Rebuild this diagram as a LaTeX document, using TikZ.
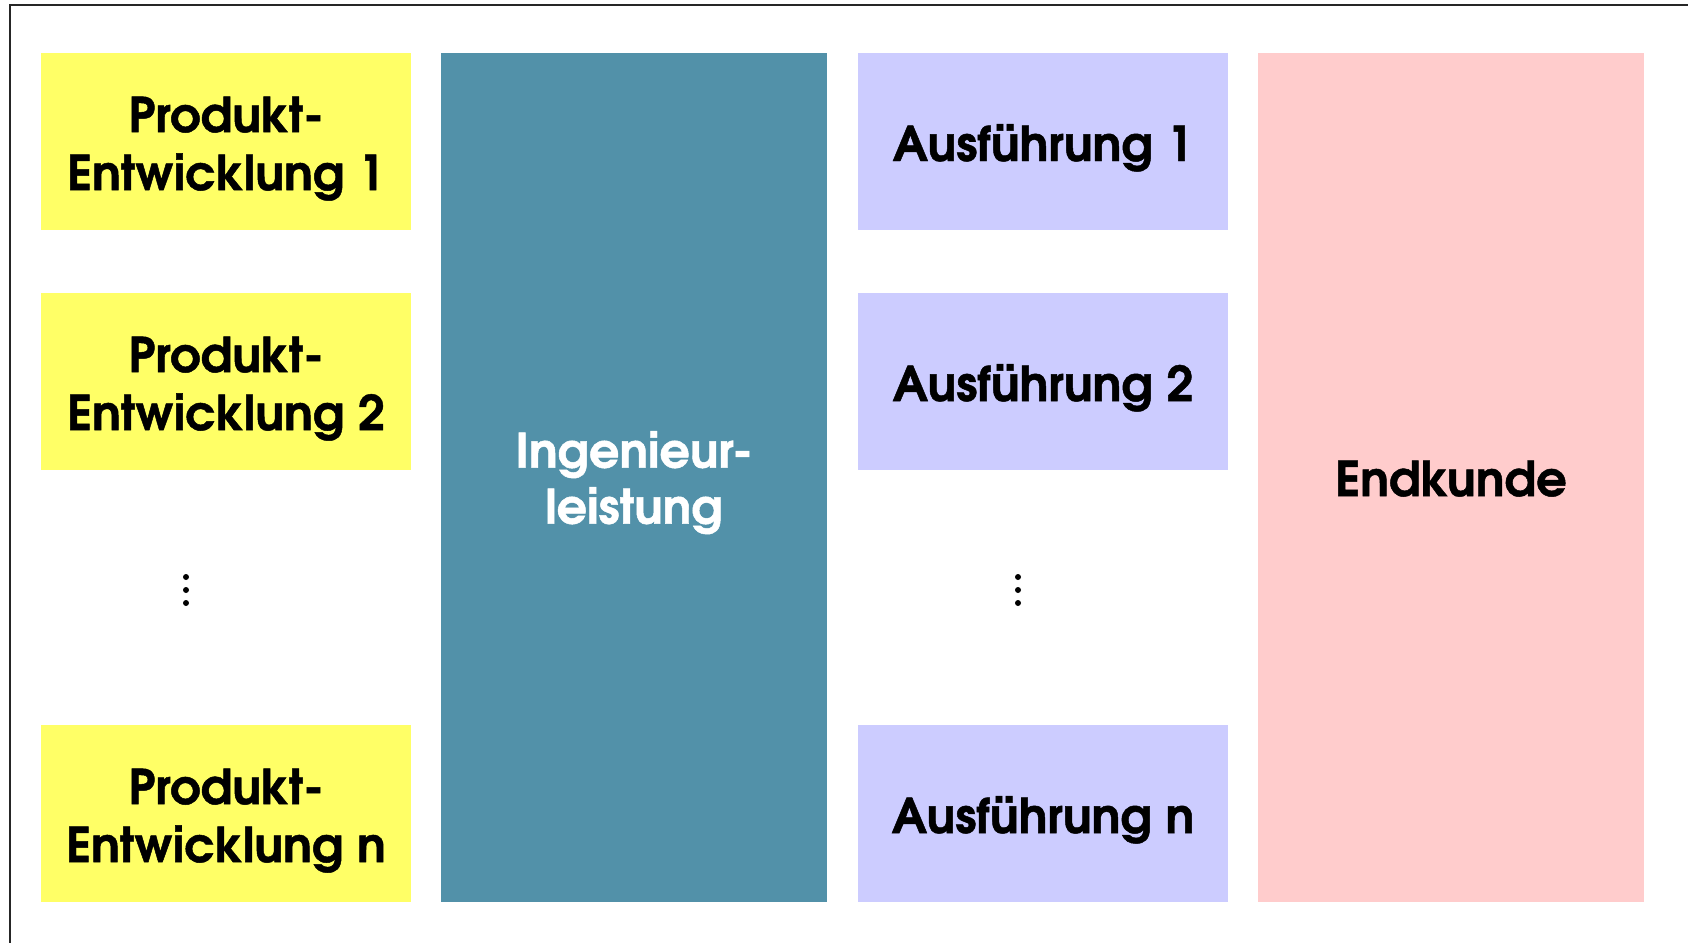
\documentclass[tikz,border=0pt]{standalone}
\usepackage{fontspec}
\setmainfont{texgyreadventor}[Extension=.otf, UprightFont=*-regular, BoldFont=*-bold, ItalicFont=*-italic, BoldItalicFont=*-bolditalic, BoldFeatures={FakeBold=1}]
\definecolor{ylw}{HTML}{FFFF66}
\definecolor{teal2}{HTML}{5291A9}
\definecolor{lav}{HTML}{CCCCFF}
\definecolor{pnk}{HTML}{FFCCCC}
\begin{document}
\begin{tikzpicture}[x=0.5pt,y=-0.5pt,
  box/.style={rectangle, inner sep=0pt, outer sep=0pt},
  txt/.style={inner sep=0pt, align=center, font=\fontsize{24}{29}\selectfont\bfseries},
  small/.style={box, minimum width=185pt, minimum height=88.5pt},
  tall/.style={box, minimum width=193pt, minimum height=424.5pt},
  prod/.style={small, fill=ylw},
  ausf/.style={small, fill=lav},
  dotmark/.style={circle, fill=black, inner sep=0pt, minimum size=3pt}]
\useasboundingbox (0,0) rectangle (1688,943);
\fill[white] (0,0) rectangle (1688,943);
\draw[line width=1pt, black!85] (10,943) -- (10,5) -- (1688,5);
% left column
\node[prod, label={[txt, yshift=-3.6pt]center:{Produkt-\\Entwicklung 1}}] (p1) at (226,141.5) {};
\node[prod, label={[txt, yshift=-3.6pt]center:{Produkt-\\Entwicklung 2}}] (p2) at (226,381.5) {};
\node[prod, label={[txt, yshift=-3.6pt]center:{Produkt-\\Entwicklung n}}] (pn) at (226,813.5) {};
\node[dotmark] (ld1) at (186,577) {};
\node[dotmark] (ld2) at (186,590) {};
\node[dotmark] (ld3) at (186,603) {};
% engineering
\node[tall, fill=teal2, label={[txt, text=white, font=\fontsize{23.8}{28}\selectfont\bfseries, yshift=-2.6pt]center:{Ingenieur-\\leistung}}] (ing) at (634,477.5) {};
% execution column
\node[ausf, label={[txt, yshift=-3.2pt]center:{Ausführung 1}}] (a1) at (1043,141.5) {};
\node[ausf, label={[txt, yshift=-3.2pt]center:{Ausführung 2}}] (a2) at (1043,381.5) {};
\node[ausf, label={[txt, yshift=-3.2pt]center:{Ausführung n}}] (an) at (1043,813.5) {};
\node[dotmark] (rd1) at (1018,577) {};
\node[dotmark] (rd2) at (1018,590) {};
\node[dotmark] (rd3) at (1018,603) {};
% customer
\node[tall, fill=pnk, label={[txt, yshift=-0.6pt]center:{Endkunde}}] (end) at (1451,477.5) {};
\end{tikzpicture}
\end{document}
